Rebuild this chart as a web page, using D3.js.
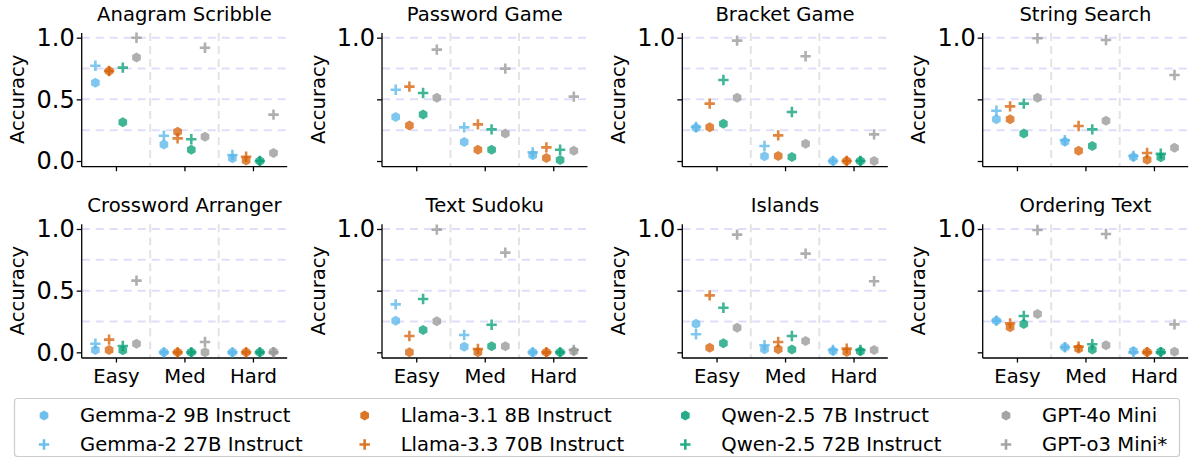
<!DOCTYPE html>
<html>
<head>
<meta charset="utf-8">
<script src="https://cdnjs.cloudflare.com/ajax/libs/d3/7.8.5/d3.min.js"></script>
<style>
  html, body { margin: 0; padding: 0; background: #fff; }
  svg text { font-family: "DejaVu Sans", sans-serif; fill: #000; }
</style>
</head>
<body>
<div id="chart"></div>
<script>
/* categories and labels */
const levels = ["Easy", "Med", "Hard"];
const taskNames = ["Anagram Scribble", "Password Game", "Bracket Game", "String Search",
                   "Crossword Arranger", "Text Sudoku", "Islands", "Ordering Text"];
const modelNames = ["Gemma-2 9B Instruct", "Gemma-2 27B Instruct", "Llama-3.1 8B Instruct",
                    "Llama-3.3 70B Instruct", "Qwen-2.5 7B Instruct", "Qwen-2.5 72B Instruct",
                    "GPT-4o Mini", "GPT-o3 Mini*"];

/* accuracy per model (order as modelNames), values for Easy / Med / Hard */
const anagramScribble = [
  [0.635, 0.135, 0.022], [0.773, 0.205, 0.049], [0.73, 0.238, 0.005], [0.73, 0.184, 0.035],
  [0.314, 0.092, 0.0], [0.757, 0.176, 0.0], [0.84, 0.197, 0.065], [1.0, 0.919, 0.376]];
const passwordGame = [
  [0.357, 0.154, 0.046], [0.578, 0.273, 0.07], [0.289, 0.092, 0.024], [0.603, 0.297, 0.111],
  [0.378, 0.092, 0.008], [0.551, 0.257, 0.092], [0.514, 0.224, 0.084], [0.903, 0.749, 0.522]];
const bracketGame = [
  [0.27, 0.038, 0.0], [0.276, 0.122, 0.0], [0.273, 0.041, 0.0], [0.465, 0.208, 0.0],
  [0.303, 0.032, 0.0], [0.657, 0.397, 0.0], [0.514, 0.141, 0.0], [0.976, 0.849, 0.216]];
const stringSearch = [
  [0.338, 0.157, 0.032], [0.408, 0.168, 0.041], [0.338, 0.084, 0.011], [0.443, 0.284, 0.065],
  [0.224, 0.122, 0.03], [0.465, 0.257, 0.059], [0.514, 0.327, 0.108], [0.995, 0.981, 0.697]];
const crosswordArranger = [
  [0.019, 0.0, 0.0], [0.07, 0.0, 0.0], [0.019, 0.0, 0.0], [0.103, 0.0, 0.0],
  [0.016, 0.0, 0.0], [0.051, 0.0, 0.0], [0.07, 0.0, 0.005], [0.581, 0.084, 0.0]];
const textSudoku = [
  [0.257, 0.046, 0.0], [0.389, 0.141, 0.0], [0.0, 0.0, 0.0], [0.132, 0.027, 0.0],
  [0.181, 0.049, 0.0], [0.432, 0.224, 0.0], [0.251, 0.049, 0.008], [0.995, 0.808, 0.019]];
const islands = [
  [0.232, 0.024, 0.011], [0.146, 0.057, 0.019], [0.038, 0.024, 0.003], [0.462, 0.084, 0.03],
  [0.073, 0.022, 0.008], [0.362, 0.132, 0.019], [0.2, 0.092, 0.019], [0.954, 0.8, 0.576]];
const orderingText = [
  [0.257, 0.041, 0.011], [0.257, 0.041, 0.0], [0.203, 0.03, 0.003], [0.235, 0.046, 0.0],
  [0.23, 0.022, 0.005], [0.295, 0.065, 0.0], [0.311, 0.057, 0.005], [0.992, 0.959, 0.227]];

const taskValues = [anagramScribble, passwordGame, bracketGame, stringSearch,
                    crosswordArranger, textSudoku, islands, orderingText];

/* y tick labels shown per panel */
const yTicks = [0, 0.5, 1.0];
const yTickLabelsFull = [0, 0.5, 1.0];
const yTickLabelsTop = [1.0];
const gridValues = [0.25, 0.5, 0.75, 1.0];

/* styling */
const colors = ["#56B4E9", "#56B4E9", "#D55E00", "#D55E00", "#029E73", "#029E73", "#949494", "#949494"];
const markers = ["hex", "plus", "hex", "plus", "hex", "plus", "hex", "plus"];
const offsets = [-0.3, -0.3, -0.1, -0.1, 0.1, 0.1, 0.3, 0.3];

const W = 1194, H = 466;
const axW = 205.5;
const colX = [81.7, 382, 682.3, 982.7];
const rowTop = [33.0, 224.3];
const axH = 133.7;

const hexSymbol = {
  draw(ctx, size) {
    const r = Math.sqrt(size);
    for (let i = 0; i < 6; i++) {
      const a = Math.PI / 3 * i - Math.PI / 2;
      const px = r * Math.cos(a), py = r * Math.sin(a);
      if (i === 0) ctx.moveTo(px, py); else ctx.lineTo(px, py);
    }
    ctx.closePath();
  }
};
const plusSymbol = {
  draw(ctx, size) {
    const r = Math.sqrt(size);
    ctx.moveTo(-r, 0); ctx.lineTo(r, 0);
    ctx.moveTo(0, -r); ctx.lineTo(0, r);
  }
};
const hexPath = d3.symbol().type(hexSymbol).size(5.0 * 5.0)();
const plusPath = d3.symbol().type(plusSymbol).size(5.2 * 5.2)();

const svg = d3.select("#chart").append("svg")
  .attr("width", W).attr("height", H);

taskValues.forEach((vals, t) => {
  const row = Math.floor(t / 4), col = t % 4;
  const g = svg.append("g")
    .attr("transform", `translate(${colX[col]},${rowTop[row]})`);

  const x = d3.scaleLinear().domain([-0.5, 2.5]).range([0, axW]);
  const y = d3.scaleLinear().domain([-0.046, 1.038]).range([axH, 0]);

  // horizontal dashed grid
  g.selectAll(".hgrid").data(gridValues).enter().append("line")
    .attr("x1", 0).attr("x2", axW)
    .attr("y1", d => y(d)).attr("y2", d => y(d))
    .attr("stroke", "#dedefc").attr("stroke-width", 2)
    .attr("stroke-dasharray", "8,6");

  // vertical separators
  g.selectAll(".vsep").data([0.5, 1.5]).enter().append("line")
    .attr("x1", d => x(d)).attr("x2", d => x(d))
    .attr("y1", 0).attr("y2", axH)
    .attr("stroke", "#e3e3e3").attr("stroke-width", 2)
    .attr("stroke-dasharray", "8,5");

  // axes
  const yAxis = d3.axisLeft(y).tickValues(yTicks).tickSize(5).tickPadding(2)
    .tickFormat(d => {
      const shown = (col === 0) ? yTickLabelsFull : yTickLabelsTop;
      return shown.includes(d) ? d3.format(".1f")(d) : "";
    });
  const xAxis = d3.axisBottom(x).tickValues([0, 1, 2]).tickSize(4.5).tickPadding(7)
    .tickFormat(i => row === 1 ? levels[i] : "");

  const ya = g.append("g").call(yAxis);
  const xa = g.append("g").attr("transform", `translate(0,${axH})`).call(xAxis);
  [ya, xa].forEach(a => {
    a.select(".domain").attr("stroke", "#000").attr("stroke-width", 1.3);
    a.selectAll(".tick line").attr("stroke", "#000").attr("stroke-width", 1.3);
    a.selectAll(".tick text").style("font-size", "19.6px").attr("fill", "#000");
  });
  ya.selectAll(".tick text").style("font-size", "24px");
  ya.select(".domain").attr("d", `M0,0V${axH}`);
  xa.select(".domain").attr("d", `M0,0H${axW}`);

  // points
  vals.forEach((series, m) => {
    g.selectAll(`.pt${m}`).data(series).enter().append("path")
      .attr("transform", (d, i) => `translate(${x(i + offsets[m])},${y(d)})`)
      .attr("d", markers[m] === "hex" ? hexPath : plusPath)
      .attr("fill", markers[m] === "hex" ? colors[m] : "none")
      .attr("stroke", markers[m] === "hex" ? "none" : colors[m])
      .attr("stroke-width", 2.6)
      .attr("opacity", 0.75);
  });

  // title
  g.append("text")
    .attr("x", axW / 2).attr("y", -12)
    .attr("text-anchor", "middle")
    .style("font-size", "19.6px")
    .text(taskNames[t]);

  // y label
  g.append("text")
    .attr("transform", `translate(-64,${y(0.5)}) rotate(-90)`)
    .attr("text-anchor", "middle")
    .attr("dominant-baseline", "central")
    .style("font-size", "19.6px")
    .text("Accuracy");
});

/* legend */
const legend = svg.append("g");
legend.append("rect")
  .attr("x", 14.5).attr("y", 398.5).attr("width", 1165).attr("height", 58)
  .attr("rx", 3).attr("fill", "#fff").attr("stroke", "#cccccc").attr("stroke-width", 1.2);

const legX = d3.scaleLinear().domain([0, 3]).range([44, 1006]);
const legY = d3.scaleLinear().domain([0, 1]).range([415.5, 444.5]);
modelNames.forEach((name, m) => {
  const c = Math.floor(m / 2), r = m % 2;
  const lg = legend.append("g")
    .attr("transform", `translate(${legX(c)},${legY(r)})`);
  lg.append("path")
    .attr("d", markers[m] === "hex" ? hexPath : plusPath)
    .attr("fill", markers[m] === "hex" ? colors[m] : "none")
    .attr("stroke", markers[m] === "hex" ? "none" : colors[m])
    .attr("stroke-width", 2.6)
    .attr("opacity", 0.85);
  lg.append("text")
    .attr("x", 36).attr("y", 0)
    .attr("dominant-baseline", "central")
    .style("font-size", "19.6px")
    .text(name);
});
</script>
</body>
</html>
